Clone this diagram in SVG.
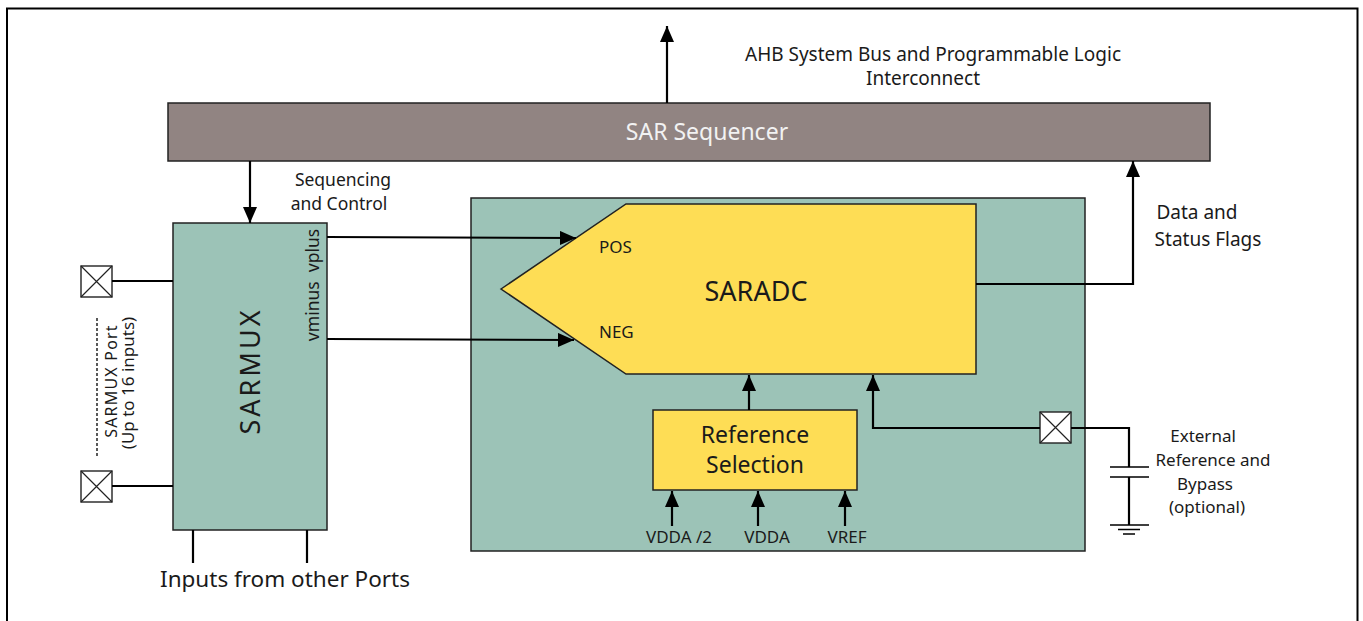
<svg xmlns="http://www.w3.org/2000/svg" width="1363" height="621" viewBox="0 0 1363 621">
<defs>
<style>
.t{font-family:"Noto Sans","Open Sans","Liberation Sans",sans-serif;fill:#1a1a1a}
.box{stroke:#222;stroke-width:1.5}
.teal{fill:#9cc3b7}
.yel{fill:#fedd55}
.w{stroke:#000;stroke-width:2.2;fill:none}
.thin{stroke:#000;stroke-width:1.3;fill:none}
</style>
<marker id="a" viewBox="0 0 16 14" refX="16" refY="7" markerWidth="16" markerHeight="14" markerUnits="userSpaceOnUse" orient="auto">
<path d="M0,0 L16,7 L0,14 z" fill="#000"/>
</marker>
<g id="port"><rect x="0" y="0" width="31" height="31" fill="#fff" stroke="#222" stroke-width="1.4"/><path d="M0,0 L31,31 M31,0 L0,31" stroke="#222" stroke-width="1.2"/></g>
</defs>
<rect x="7" y="8.5" width="1350.5" height="620" fill="#fff" stroke="#000" stroke-width="2"/>

<g id="sequencer">
<rect class="box" x="168" y="103" width="1042" height="58" fill="#918482"/>
<text class="t" x="707" y="140" font-size="23" text-anchor="middle" style="fill:#f2f2f2">SAR Sequencer</text>
</g>

<g id="adc-block">
<rect class="box teal" x="471" y="198" width="614" height="353"/>
</g>

<g id="saradc">
<polygon class="box yel" points="501,289 626,204 976,204 976,374 626,374"/>
<text class="t" x="756" y="301" font-size="27" text-anchor="middle">SARADC</text>
<text class="t" x="599" y="253" font-size="17">POS</text>
<text class="t" x="599" y="338" font-size="17">NEG</text>
</g>

<g id="refsel">
<rect class="box yel" x="653" y="410" width="204" height="80"/>
<text class="t" x="755" y="443" font-size="23" text-anchor="middle">Reference</text>
<text class="t" x="755" y="473" font-size="23" text-anchor="middle">Selection</text>
</g>

<g id="sarmux">
<rect class="box teal" x="173" y="223" width="154" height="307"/>
<text class="t" transform="translate(260,371) rotate(-90)" font-size="27" letter-spacing="3" text-anchor="middle">SARMUX</text>
<text class="t" transform="translate(319,285) rotate(-90)" font-size="17.5" text-anchor="middle" style="white-space:pre">vminus  vplus</text>
</g>

<g id="ports-left">
<use href="#port" x="81" y="266"/>
<use href="#port" x="81" y="471"/>
<line x1="97" y1="318" x2="97" y2="457" stroke="#000" stroke-width="1.3" stroke-dasharray="3,2"/>
<text class="t" transform="translate(117,381) rotate(-90)" font-size="16" letter-spacing="1.2" text-anchor="middle">SARMUX Port</text>
<text class="t" transform="translate(134,383) rotate(-90)" font-size="17" text-anchor="middle">(Up to 16 inputs)</text>
</g>

<g id="ext-ref">
<use href="#port" x="1040" y="412"/>
<path class="thin" d="M1110,467 H1149 M1110,477 H1149 M1110,525 H1149 M1118,529.5 H1140 M1123,534 H1135"/>
<text class="t" x="1203" y="442" font-size="17" text-anchor="middle">External</text>
<text class="t" x="1213" y="466" font-size="17" text-anchor="middle">Reference and</text>
<text class="t" x="1205" y="490" font-size="17" text-anchor="middle">Bypass</text>
<text class="t" x="1207" y="513" font-size="17" text-anchor="middle">(optional)</text>
</g>

<g id="labels">
<text class="t" x="933" y="61" font-size="19" text-anchor="middle">AHB System Bus and Programmable Logic</text>
<text class="t" x="923" y="85" font-size="19" text-anchor="middle">Interconnect</text>
<text class="t" x="343" y="186" font-size="17.5" text-anchor="middle">Sequencing</text>
<text class="t" x="339" y="210" font-size="17.5" text-anchor="middle">and Control</text>
<text class="t" x="1197" y="219" font-size="19" text-anchor="middle">Data and</text>
<text class="t" x="1208" y="246" font-size="19" text-anchor="middle">Status Flags</text>
<text class="t" x="285" y="587" font-size="22.5" text-anchor="middle">Inputs from other Ports</text>
<text class="t" x="679" y="543" font-size="17" text-anchor="middle">VDDA /2</text>
<text class="t" x="767" y="543" font-size="17" text-anchor="middle">VDDA</text>
<text class="t" x="847" y="543" font-size="17" text-anchor="middle">VREF</text>
</g>

<g id="connectors">
<line class="w" x1="667" y1="103" x2="667" y2="26" marker-end="url(#a)"/>
<line class="w" x1="250" y1="161" x2="250" y2="223" marker-end="url(#a)"/>
<polyline class="w" points="976,284 1133,284 1133,161" marker-end="url(#a)"/>
<line class="w" x1="327" y1="237" x2="576" y2="238" marker-end="url(#a)"/>
<line class="w" x1="327" y1="339" x2="574" y2="340" marker-end="url(#a)"/>
<line class="w" x1="749" y1="410" x2="749" y2="375" marker-end="url(#a)"/>
<polyline class="w" points="1040,428 873,428 873,375" marker-end="url(#a)"/>
<polyline class="w" points="1071,428 1129,428 1129,467"/>
<line class="w" x1="1129" y1="477" x2="1129" y2="525"/>
<line class="w" x1="672" y1="526" x2="672" y2="491" marker-end="url(#a)"/>
<line class="w" x1="758" y1="526" x2="758" y2="491" marker-end="url(#a)"/>
<line class="w" x1="845" y1="526" x2="845" y2="491" marker-end="url(#a)"/>
<line class="w" x1="112" y1="281" x2="173" y2="281"/>
<line class="w" x1="112" y1="486" x2="173" y2="486"/>
<line class="w" x1="193" y1="530" x2="193" y2="563"/>
<line class="w" x1="307" y1="530" x2="307" y2="563"/>
</g>
</svg>
